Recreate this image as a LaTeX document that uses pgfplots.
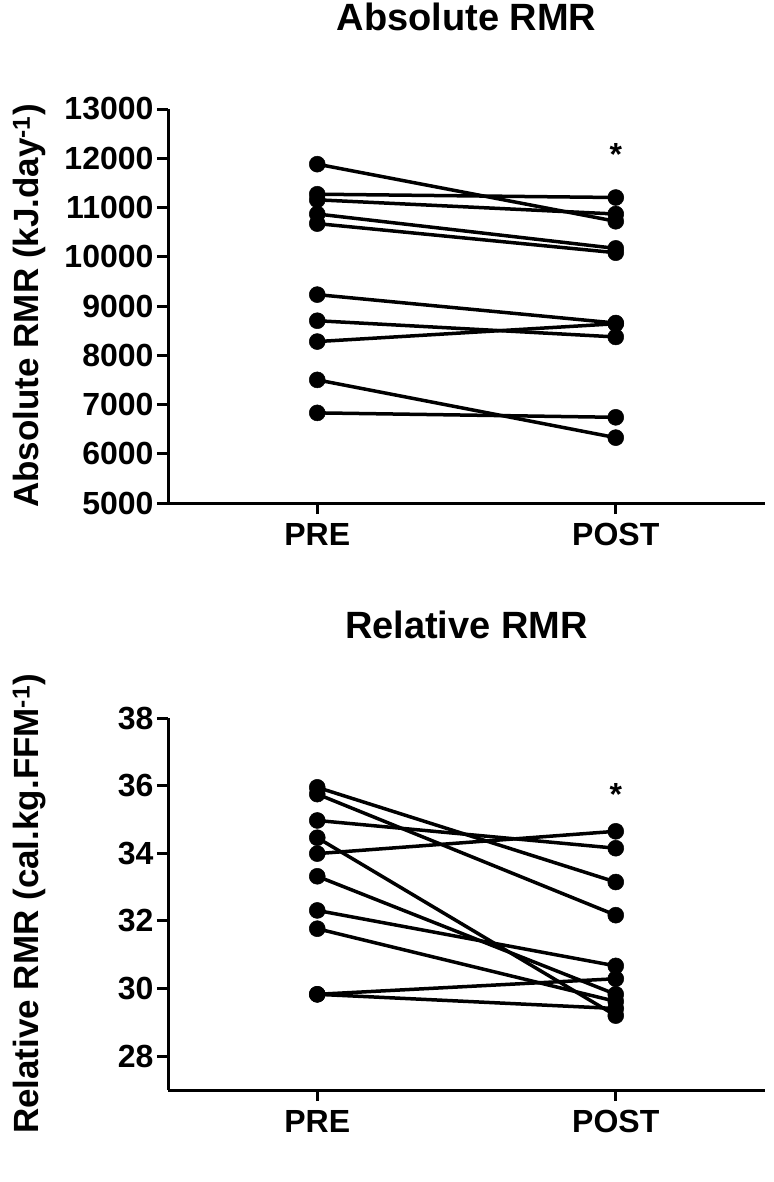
\documentclass[border=0pt]{standalone}
\usepackage{fontspec}
\setmainfont{Liberation Sans}
\usepackage{pgfplots}
\pgfplotsset{compat=1.18}
\pgfplotscreateplotcyclelist{bwdots}{%
  {black, solid, line width=3.5pt, mark=*, mark size=8pt, mark options={solid, fill=black, line width=0.5pt}}\\%
}
\pgfplotsset{
  rmr/.style={
    scale only axis, width=597pt,
    axis lines=left, axis line style={line width=3pt, -},
    xmin=-0.5, xmax=1.5, xtick={0,1}, xticklabels={PRE,POST},
    tick style={line width=3pt, black},
    tick align=outside, major tick length=11pt,
    tick label style={font=\fontsize{32}{32}\selectfont\bfseries},
    xticklabel style={yshift=-6pt},
    scaled y ticks=false,
    /pgf/number format/assume math mode=true,
    /pgf/number format/set thousands separator={},
    ylabel style={font=\fontsize{35}{35}\selectfont\bfseries, at={(axis description cs:-0.232,0.5)}, anchor=center},
    title style={font=\fontsize{38}{38}\selectfont\bfseries, at={(axis description cs:0.5,1)}, anchor=base},
    cycle list name=bwdots,
    clip=false,
  }
}
\begin{document}
\begin{tikzpicture}
\path[use as bounding box] (0pt,0pt) rectangle (773pt,-1182pt);
% ---------- Absolute RMR ----------
\begin{axis}[rmr, at={(168pt,-503pt)}, anchor=south west, height=394pt,
  ymin=5000, ymax=13000, ytick={5000,6000,...,13000},
  title={Absolute RMR}, title style={yshift=73pt},
  ylabel={Absolute RMR (kJ.day\textsuperscript{-1})}]
\addplot coordinates {(0,11880) (1,10720)};
\addplot coordinates {(0,11270) (1,11203)};
\addplot coordinates {(0,11156) (1,10868)};
\addplot coordinates {(0,10868) (1,10170)};
\addplot coordinates {(0,10673) (1,10082)};
\addplot coordinates {(0,9231) (1,8654)};
\addplot coordinates {(0,8701) (1,8372)};
\addplot coordinates {(0,8278) (1,8640)};
\addplot coordinates {(0,7500) (1,6327)};
\addplot coordinates {(0,6830) (1,6740)};
\node[anchor=base, font=\fontsize{32}{32}\selectfont\bfseries] at (axis cs:1,11850) {*};
\end{axis}
% ---------- Relative RMR ----------
\begin{axis}[rmr, at={(168pt,-1090pt)}, anchor=south west, height=372pt,
  ymin=27, ymax=38, ytick={28,30,...,38},
  title={Relative RMR}, title style={yshift=74pt},
  ylabel={Relative RMR (cal.kg.FFM\textsuperscript{-1})}]
\addplot coordinates {(0,35.95) (1,33.15)};
\addplot coordinates {(0,35.75) (1,32.17)};
\addplot coordinates {(0,34.97) (1,34.15)};
\addplot coordinates {(0,34.46) (1,29.20)};
\addplot coordinates {(0,33.99) (1,34.65)};
\addplot coordinates {(0,33.32) (1,29.83)};
\addplot coordinates {(0,32.31) (1,30.67)};
\addplot coordinates {(0,31.77) (1,29.62)};
\addplot coordinates {(0,29.83) (1,30.29)};
\addplot coordinates {(0,29.83) (1,29.41)};
\node[anchor=base, font=\fontsize{32}{32}\selectfont\bfseries] at (axis cs:1,35.4) {*};
\end{axis}
\end{tikzpicture}
\end{document}
